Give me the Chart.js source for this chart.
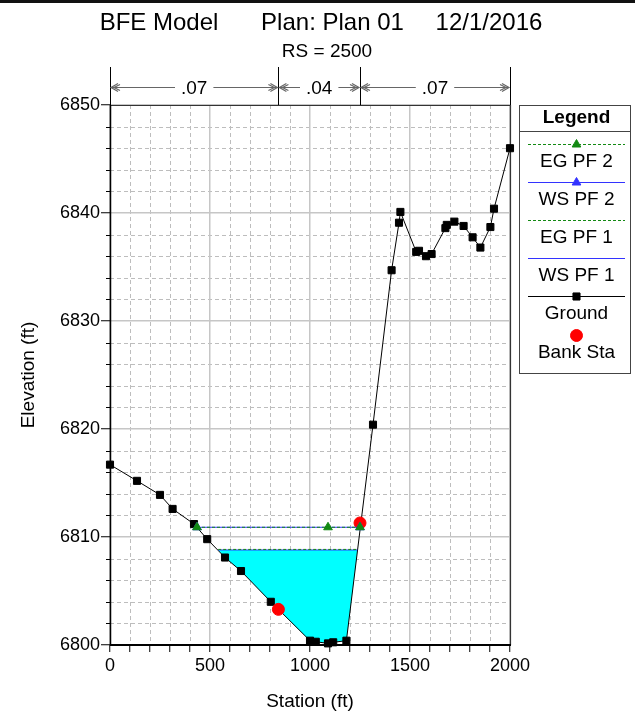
<!DOCTYPE html>
<html>
<head>
<meta charset="utf-8">
<script src="https://cdn.jsdelivr.net/npm/chart.js@4.4.1/dist/chart.umd.min.js"></script>
<style>
  html, body { margin: 0; padding: 0; background: #fff; }
  #wrap { position: relative; width: 635px; height: 713px; }
</style>
</head>
<body>
<div id="wrap"><canvas id="xs"></canvas></div>
<script>
// Cross section RS 2500 - ground profile, bank stations and water surfaces
const groundStations = [0, 135, 250, 313, 420, 486, 575, 655, 804, 1000, 1029, 1090, 1116, 1182, 1315, 1408, 1445, 1452, 1531, 1545, 1580, 1608, 1677, 1684, 1722, 1768, 1813, 1852, 1902, 1920, 2000];
const groundElev = [6816.7, 6815.2, 6813.9, 6812.6, 6811.2, 6809.8, 6808.1, 6806.85, 6804.0, 6800.4, 6800.3, 6800.15, 6800.25, 6800.4, 6820.4, 6834.7, 6839.1, 6840.1, 6836.4, 6836.5, 6836.0, 6836.2, 6838.6, 6838.9, 6839.2, 6838.8, 6837.75, 6836.8, 6838.7, 6840.4, 6846.0];

const bankStations = [842, 1250];
const bankElev = [6803.3, 6811.3];

const egPf2Stations = [435, 1090, 1250];
const egPf2Elev = [6810.9, 6810.9, 6810.9];
const wsPf2Stations = [435, 1250];
const wsPf2Elev = [6810.9, 6810.9];
const egPf1Stations = [541, 1237];
const egPf1Elev = [6808.85, 6808.85];
const wsPf1Stations = [541, 1237];
const wsPf1Elev = [6808.8, 6808.8];

// Manning's n values between the section ends and the bank stations
const nValues = ['.07', '.04', '.07'];
const nBreaks = [0, bankStations[0], bankStations[1], 2000];

const titleParts = ['BFE Model', 'Plan: Plan 01', '12/1/2016'];
const subTitle = 'RS = 2500';

const FONT = "'Liberation Sans', Arial, Helvetica, sans-serif";
const GREEN = '#138a13';
const BLUE = '#3333ff';
const CYAN = '#00ffff';
const MAJOR_GRID = '#c6c6c6';
const MINOR_GRID = '#bdbdbd';

const toXY = (xs, ys) => xs.map((x, i) => ({ x: x, y: ys[i] }));

const decor = {
  id: 'decor',
  beforeDraw(chart) {
    const { ctx, chartArea: a, scales: { x, y } } = chart;
    ctx.save();
    ctx.strokeStyle = MINOR_GRID;
    ctx.lineWidth = 1;
    ctx.setLineDash([4, 3]);
    ctx.beginPath();
    x.ticks.forEach(t => {
      if (t.value % 500 !== 0) {
        const px = Math.round(x.getPixelForValue(t.value)) + 0.5;
        ctx.moveTo(px, a.top); ctx.lineTo(px, a.bottom);
      }
    });
    y.ticks.forEach(t => {
      if (t.value % 10 !== 0) {
        const py = Math.round(y.getPixelForValue(t.value)) + 0.5;
        ctx.moveTo(a.left, py); ctx.lineTo(a.right, py);
      }
    });
    ctx.stroke();
    ctx.restore();
  },
  beforeDatasetsDraw(chart) {
    const { ctx, chartArea: a, scales: { y } } = chart;
    ctx.save();
    // frame
    ctx.strokeStyle = '#333';
    ctx.lineWidth = 1.2;
    ctx.beginPath();
    ctx.moveTo(a.left, a.top + 0.5); ctx.lineTo(a.right + 0.5, a.top + 0.5);
    ctx.lineTo(a.right + 0.5, a.bottom);
    ctx.stroke();
    ctx.strokeStyle = '#000';
    ctx.lineWidth = 1.5;
    ctx.beginPath();
    ctx.moveTo(a.left + 0.5, a.top); ctx.lineTo(a.left + 0.5, a.bottom);
    ctx.stroke();
    ctx.lineWidth = 2;
    ctx.beginPath();
    ctx.moveTo(a.left, a.bottom); ctx.lineTo(a.right + 1, a.bottom);
    ctx.stroke();
    // short minor ticks on the elevation axis
    ctx.lineWidth = 1;
    ctx.beginPath();
    y.ticks.forEach(t => {
      if (t.value % 10 !== 0) {
        const py = Math.round(y.getPixelForValue(t.value)) + 0.5;
        ctx.moveTo(a.left - 4, py); ctx.lineTo(a.left, py);
      }
    });
    ctx.stroke();
    ctx.restore();
  },
  afterDraw(chart) {
    const { ctx, chartArea: a, scales: { x } } = chart;
    const W = chart.width;
    ctx.save();
    // window edge at the top
    ctx.fillStyle = '#111';
    ctx.fillRect(0, 0, W, 3);

    // titles
    ctx.fillStyle = '#000';
    ctx.textBaseline = 'middle';
    ctx.textAlign = 'center';
    ctx.font = '24px ' + FONT;
    const titleX = [159, 332.5, 489];
    titleParts.forEach((t, i) => ctx.fillText(t, titleX[i], 23));
    ctx.font = '19px ' + FONT;
    ctx.fillText(subTitle, 327, 52);

    // Manning's n band
    const bandY = 87.5;
    ctx.strokeStyle = '#000';
    ctx.lineWidth = 1;
    ctx.beginPath();
    nBreaks.forEach(s => {
      const px = Math.round(x.getPixelForValue(s)) + 0.5;
      ctx.moveTo(px, 67); ctx.lineTo(px, a.top);
    });
    ctx.stroke();
    ctx.font = '19px ' + FONT;
    for (let i = 0; i < nValues.length; i++) {
      const x1 = x.getPixelForValue(nBreaks[i]) + 1;
      const x2 = x.getPixelForValue(nBreaks[i + 1]) - 1;
      const mid = (x1 + x2) / 2;
      const gap = ctx.measureText(nValues[i]).width / 2 + 6;
      ctx.strokeStyle = '#666';
      ctx.lineWidth = 1.2;
      ctx.beginPath();
      ctx.moveTo(x1, bandY); ctx.lineTo(mid - gap, bandY);
      ctx.moveTo(mid + gap, bandY); ctx.lineTo(x2, bandY);
      // open chevron heads at both ends
      ctx.moveTo(x1 + 7, bandY - 4); ctx.lineTo(x1, bandY); ctx.lineTo(x1 + 7, bandY + 4);
      ctx.moveTo(x1 + 9, bandY - 3); ctx.lineTo(x1 + 3, bandY); ctx.lineTo(x1 + 9, bandY + 3);
      ctx.moveTo(x2 - 7, bandY - 4); ctx.lineTo(x2, bandY); ctx.lineTo(x2 - 7, bandY + 4);
      ctx.moveTo(x2 - 9, bandY - 3); ctx.lineTo(x2 - 3, bandY); ctx.lineTo(x2 - 9, bandY + 3);
      ctx.stroke();
      ctx.fillStyle = '#000';
      ctx.fillText(nValues[i], mid, bandY + 1);
    }

    // legend box
    const L = 519.5, R = 630.5, T = 105.5, B = 373.5;
    const cx = 576.5;
    ctx.strokeStyle = '#444';
    ctx.lineWidth = 1;
    ctx.strokeRect(L, T, R - L, B - T);
    ctx.beginPath();
    ctx.moveTo(L, 131.5); ctx.lineTo(R, 131.5);
    ctx.stroke();
    ctx.fillStyle = '#000';
    ctx.font = 'bold 19px ' + FONT;
    ctx.fillText('Legend', cx, 118);
    ctx.font = '19px ' + FONT;
    chart.data.datasets.forEach((ds, i) => {
      const ly = Math.round(144 + i * 38.1) + 0.5;
      if (ds.showLine !== false) {
        ctx.save();
        ctx.strokeStyle = ds.borderColor;
        ctx.lineWidth = ds.borderWidth;
        ctx.setLineDash(ds.borderDash || []);
        ctx.beginPath();
        ctx.moveTo(528, ly); ctx.lineTo(625, ly);
        ctx.stroke();
        ctx.restore();
      }
      if (ds.pointRadius > 0) {
        ctx.save();
        ctx.fillStyle = ds.pointBackgroundColor;
        ctx.strokeStyle = ds.pointBorderColor;
        Chart.helpers.drawPoint(ctx, { pointStyle: ds.pointStyle, radius: ds.pointRadius, rotation: 0, borderWidth: 1 }, cx, ly);
        ctx.restore();
      }
      ctx.fillStyle = '#000';
      ctx.fillText(ds.label, cx, ly + 17);
    });
    ctx.restore();
  }
};

new Chart(document.getElementById('xs'), {
  type: 'line',
  data: {
    datasets: [
      { label: 'EG PF 2', data: toXY(egPf2Stations, egPf2Elev), borderColor: GREEN, borderWidth: 1, borderDash: [3, 2],
        pointStyle: 'triangle', pointRadius: 5, pointBackgroundColor: GREEN, pointBorderColor: GREEN, fill: false, order: 0, clip: false },
      { label: 'WS PF 2', data: toXY(wsPf2Stations, wsPf2Elev), borderColor: BLUE, borderWidth: 1,
        pointStyle: 'triangle', pointRadius: 5, pointBackgroundColor: BLUE, pointBorderColor: BLUE, fill: false, order: 1, clip: false },
      { label: 'EG PF 1', data: toXY(egPf1Stations, egPf1Elev), borderColor: GREEN, borderWidth: 1, borderDash: [3, 2],
        pointRadius: 0, fill: false, order: 2, clip: false },
      { label: 'WS PF 1', data: toXY(wsPf1Stations, wsPf1Elev), borderColor: BLUE, borderWidth: 1,
        pointRadius: 0, backgroundColor: CYAN, fill: { target: 4 }, order: 3, clip: false },
      { label: 'Ground', data: toXY(groundStations, groundElev), borderColor: '#000', borderWidth: 1,
        pointStyle: 'rect', pointRadius: 5, pointBackgroundColor: '#000', pointBorderColor: '#000', fill: false, order: 5, clip: false },
      { label: 'Bank Sta', data: toXY(bankStations, bankElev), showLine: false, borderColor: 'rgba(0,0,0,0)',
        pointStyle: 'circle', pointRadius: 6, pointBackgroundColor: '#ff0000', pointBorderColor: '#ff0000', fill: false, order: 4, clip: false }
    ]
  },
  options: {
    responsive: true,
    maintainAspectRatio: false,
    animation: false,
    events: [],
    layout: { padding: { top: 105, right: 125, left: 0, bottom: 0 } },
    elements: { line: { tension: 0 } },
    plugins: {
      legend: { display: false },
      title: { display: false },
      tooltip: { enabled: false },
      filler: { propagate: false, drawTime: 'beforeDatasetsDraw' }
    },
    scales: {
      x: {
        type: 'linear', min: 0, max: 2000,
        afterFit(s) { s.height = 68; },
        ticks: { stepSize: 100, autoSkip: false, maxRotation: 0, color: '#000', padding: 3,
                 font: { family: FONT, size: 18 }, callback: v => (v % 500 === 0 ? String(v) : '') },
        grid: { color: c => (c.tick && c.tick.value % 500 === 0 ? MAJOR_GRID : 'rgba(0,0,0,0)'),
                lineWidth: 1.5, tickLength: 7, tickColor: '#000', tickWidth: 1 },
        border: { display: false },
        title: { display: true, text: 'Station (ft)', color: '#000', font: { family: FONT, size: 19 }, padding: { top: 0, bottom: 0 } }
      },
      y: {
        type: 'linear', min: 6800, max: 6850,
        afterFit(s) { s.width = 110; },
        ticks: { stepSize: 2, autoSkip: false, color: '#000', padding: 1,
                 font: { family: FONT, size: 18 }, callback: v => (v % 10 === 0 ? String(v) : '') },
        grid: { color: c => (c.tick && c.tick.value % 10 === 0 ? MAJOR_GRID : 'rgba(0,0,0,0)'),
                lineWidth: 1.5, tickLength: 9,
                tickColor: c => (c.tick && c.tick.value % 10 === 0 ? '#000' : 'rgba(0,0,0,0)'), tickWidth: 1 },
        border: { display: false },
        title: { display: true, text: 'Elevation (ft)', color: '#000', font: { family: FONT, size: 19 }, padding: { top: 17, bottom: 0 } }
      }
    }
  },
  plugins: [decor]
});
</script>
</body>
</html>
